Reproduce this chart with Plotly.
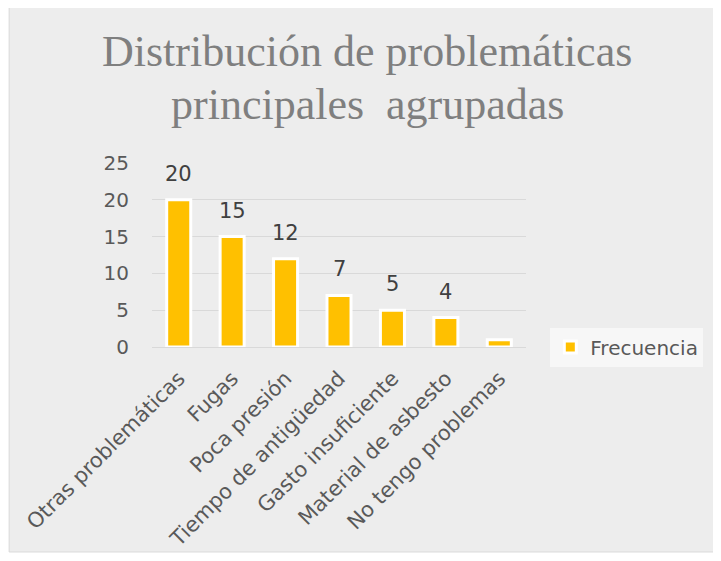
import plotly.graph_objects as go

# Datos
categorias = ['Otras problemáticas', 'Fugas', 'Poca presión', 'Tiempo de antigüedad',
              'Gasto insuficiente', 'Material de asbesto', 'No tengo problemas']
frecuencia = [20, 15, 12, 7, 5, 4, 1]
etiquetas = ['20', '15', '12', '7', '5', '4', '']
titulo = ['Distribución de problemáticas', 'principales  agrupadas']

fuente = 'DejaVu Sans'
gris = '#595959'

fig = go.Figure()
fig.add_trace(go.Bar(
    x=categorias, y=frecuencia, name='Frecuencia',
    marker=dict(color='#FFC000', line=dict(color='white', width=3)),
))

# Etiquetas de datos, algo separadas de la barra
for cat, val, txt in zip(categorias, frecuencia, etiquetas):
    if txt:
        fig.add_annotation(x=cat, y=val, text=txt, showarrow=False,
                           yanchor='bottom', yshift=12,
                           font=dict(family=fuente, size=21, color='#404040'))

# Título en dos líneas
for linea, ypos in zip(titulo, [1.752, 1.462]):
    fig.add_annotation(xref='paper', yref='paper', x=0.575, y=ypos,
                       xanchor='center', yanchor='top', showarrow=False, text=linea,
                       font=dict(family='Liberation Serif', size=44, color='#7F7F7F'))

# Fondo del gráfico con borde
fig.add_shape(type='rect', xref='paper', yref='paper',
              x0=-0.382, x1=1.519, y0=-1.114, y1=1.848,
              fillcolor='#EDEDED', line=dict(color='#D9D9D9', width=1), layer='below')

fig.update_layout(
    width=721, height=561,
    margin=dict(l=144, r=203, t=155, b=222),
    paper_bgcolor='white', plot_bgcolor='rgba(0,0,0,0)',
    bargap=0.55,
    showlegend=True,
    legend=dict(x=1.065, y=0.0, xanchor='left', yanchor='middle',
                bgcolor='rgba(255,255,255,0.55)',
                font=dict(family=fuente, size=20, color=gris)),
    xaxis=dict(tickangle=-45, tickfont=dict(family=fuente, size=21, color=gris),
               showline=False, ticks='', automargin=False, ticklabelstandoff=14),
    yaxis=dict(range=[0, 25], dtick=5, gridcolor='#D9D9D9', gridwidth=1,
               zeroline=True, zerolinecolor='#D9D9D9', zerolinewidth=1,
               tickfont=dict(family=fuente, size=20, color=gris),
               ticklabelstandoff=22, automargin=False),
)

fig.write_html('out.html')
